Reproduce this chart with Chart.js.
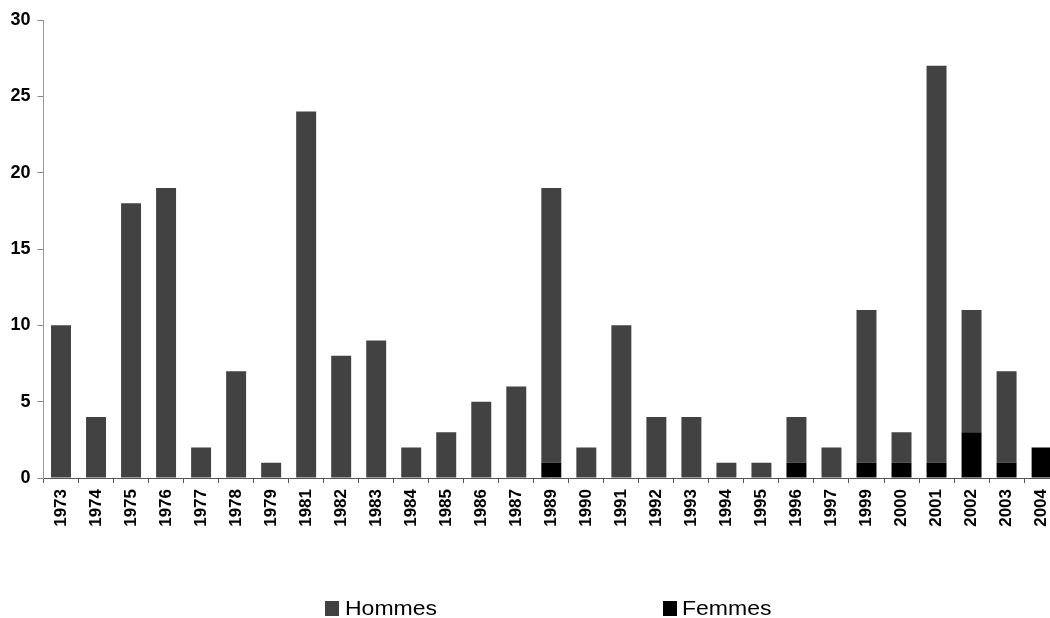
<!DOCTYPE html>
<html>
<head>
<meta charset="utf-8">
<title>Hommes / Femmes par année</title>
<script src="https://cdn.jsdelivr.net/npm/chart.js@4/dist/chart.umd.min.js"></script>
<style>
  html, body { margin: 0; padding: 0; background: #fff; overflow: hidden; }
  #wrap { position: absolute; left: 0; top: 0; width: 1068px; height: 618px; }
</style>
</head>
<body>
<div id="wrap"><canvas id="c" width="1068" height="618"></canvas></div>
<script>
// Years shown on the horizontal axis
const years = ['1973','1974','1975','1976','1977','1978','1979','1981','1982','1983',
               '1984','1985','1986','1987','1989','1990','1991','1992','1993','1994',
               '1995','1996','1997','1999','2000','2001','2002','2003','2004'];
// Counts per year, men and women (stacked)
const hommes = [10,4,18,19,2,7,1,24,8,9,2,3,5,6,18,2,10,4,4,1,1,3,2,10,2,26,8,6,0];
const femmes = [0,0,0,0,0,0,0,0,0,0,0,0,0,0,1,0,0,0,0,0,0,1,0,1,1,1,3,1,2];
// Vertical axis ticks
const yTicks = [0,5,10,15,20,25,30];

const GRAY = '#424242';
const BLACK = '#000000';
const FONT = '"Liberation Sans", Arial, sans-serif';

// Legend laid out at the bottom, items spread apart
const bottomLegend = {
  id: 'bottomLegend',
  afterDraw(chart, args, opts) {
    const ctx = chart.ctx;
    ctx.save();
    opts.items.forEach(it => {
      const ds = chart.data.datasets.find(d => d.label === it.label);
      ctx.fillStyle = ds.backgroundColor;
      ctx.fillRect(it.boxX, opts.y - 7, 14, 15);
      ctx.save();
      ctx.translate(it.textX, opts.y);
      ctx.scale(1.15, 1);
      ctx.fillStyle = '#000';
      ctx.font = '20px ' + FONT;
      ctx.textBaseline = 'middle';
      ctx.fillText(ds.label, 0, 1);
      ctx.restore();
    });
    ctx.restore();
  }
};

new Chart(document.getElementById('c'), {
  type: 'bar',
  data: {
    labels: years,
    datasets: [
      { label: 'Femmes', data: femmes, backgroundColor: BLACK, borderWidth: 0 },
      { label: 'Hommes', data: hommes, backgroundColor: GRAY, borderWidth: 0 }
    ]
  },
  options: {
    responsive: false,
    animation: false,
    layout: { padding: { top: 20, right: 0, bottom: 0, left: 0 } },
    datasets: { bar: { categoryPercentage: 1, barPercentage: 0.57 } },
    plugins: {
      legend: { display: false },
      tooltip: { enabled: false },
      bottomLegend: {
        y: 608,
        items: [
          { label: 'Hommes', boxX: 325, textX: 345 },
          { label: 'Femmes', boxX: 663, textX: 682 }
        ]
      }
    },
    scales: {
      x: {
        stacked: true,
        grid: { display: true, drawOnChartArea: false, offset: true, tickLength: 5, color: '#555' },
        border: { display: true, color: '#555', width: 1 },
        ticks: {
          autoSkip: false, maxRotation: 90, minRotation: 90, padding: 6,
          color: '#000', font: { family: FONT, size: 17, weight: 'bold' }
        },
        afterFit(scale) { scale.height = 140; }
      },
      y: {
        stacked: true,
        min: 0, max: 30,
        afterBuildTicks(scale) { scale.ticks = yTicks.map(v => ({ value: v })); },
        grid: { display: true, drawOnChartArea: false, tickLength: 6, color: '#888' },
        border: { display: true, color: '#999', width: 1 },
        ticks: {
          padding: 7, color: '#000',
          font: { family: FONT, size: 18, weight: 'bold' }
        },
        afterFit(scale) { scale.width = 43.5; }
      }
    }
  },
  plugins: [bottomLegend]
});
</script>
</body>
</html>
